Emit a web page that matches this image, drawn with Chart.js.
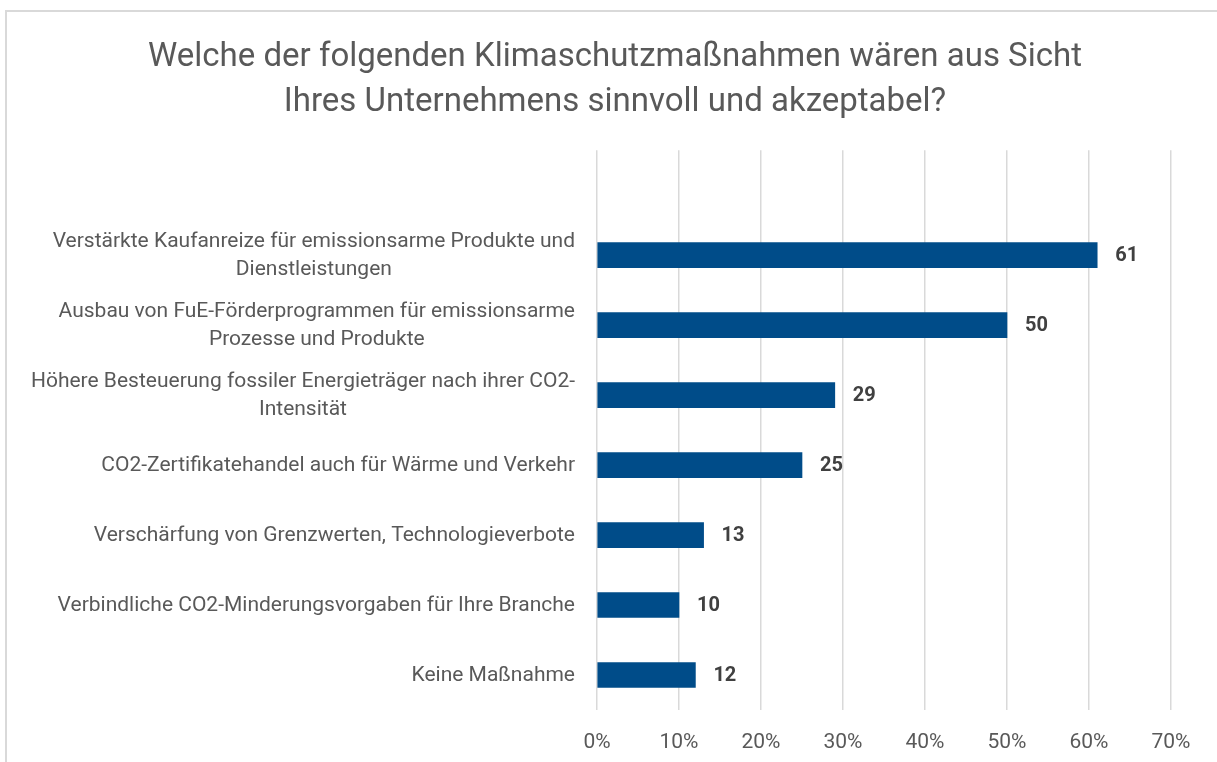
<!DOCTYPE html>
<html>
<head>
<meta charset="utf-8">
<script src="https://cdn.jsdelivr.net/npm/chart.js@4"></script>
<style>
  body { margin: 0; background: #fff; }
  #wrap { position: relative; width: 1217px; height: 762px; }
  #frame { position: absolute; left: 5px; top: 10px; right: 0; bottom: 0;
           border-top: 2px solid #d9d9d9; border-left: 2px solid #d9d9d9; }
  canvas { position: absolute; left: 0; top: 0; }
</style>
</head>
<body>
<div id="wrap">
  <div id="frame"></div>
  <canvas id="chart" width="1217" height="762"></canvas>
</div>
<script>
const titleLines = [
    'Welche der folgenden Klimaschutzmaßnahmen wären aus Sicht',
    'Ihres Unternehmens sinnvoll und akzeptabel?'
];

const categories = [
    ['Verstärkte Kaufanreize für emissionsarme Produkte und', 'Dienstleistungen'],
    ['Ausbau von FuE-Förderprogrammen für emissionsarme', 'Prozesse und Produkte'],
    ['Höhere Besteuerung fossiler Energieträger nach ihrer CO2-', 'Intensität'],
    ['CO2-Zertifikatehandel auch für Wärme und Verkehr'],
    ['Verschärfung von Grenzwerten, Technologieverbote'],
    ['Verbindliche CO2-Minderungsvorgaben für Ihre Branche'],
    ['Keine Maßnahme']
];

const values = [61, 50, 29, 25, 13, 10, 12];

const xTicks = [0, 10, 20, 30, 40, 50, 60, 70];

const FONT = 'Roboto, "Noto Sans", sans-serif';

// Excel leaves one empty slot above the first bar
const labels = [''].concat(categories.map(c => c.join(' ')));
const data = [null].concat(values);

// category labels: block right aligned, lines centred inside the block
const categoryLabels = {
    id: 'categoryLabels',
    afterDraw(chart) {
        const ctx = chart.ctx;
        const y = chart.scales.y;
        const right = chart.chartArea.left - 22;
        ctx.save();
        ctx.font = '21px ' + FONT;
        ctx.fillStyle = '#595959';
        ctx.textBaseline = 'middle';
        ctx.textAlign = 'center';
        categories.forEach((lines, i) => {
            const cy = y.getPixelForValue(i + 1) + 1;
            const w = Math.max(...lines.map(l => ctx.measureText(l).width));
            const cx = right - w / 2;
            const lh = 28;
            const top = cy - (lines.length - 1) * lh / 2;
            lines.forEach((l, j) => ctx.fillText(l, cx, top + j * lh));
        });
        ctx.restore();
    }
};

const valueLabels = {
    id: 'valueLabels',
    afterDatasetsDraw(chart) {
        const ctx = chart.ctx;
        const meta = chart.getDatasetMeta(0);
        ctx.save();
        ctx.font = 'bold 20px ' + FONT;
        ctx.fillStyle = '#404040';
        ctx.textBaseline = 'middle';
        ctx.textAlign = 'left';
        meta.data.forEach((bar, i) => {
            if (data[i] == null) return;
            ctx.fillText(String(data[i]), bar.x + 18, bar.y + 1);
        });
        ctx.restore();
    }
};

new Chart(
    document.getElementById('chart').getContext('2d'),
    {
        type: 'bar',
        data: {
            labels: labels,
            datasets: [{
                data: data,
                backgroundColor: '#004c89',
                barThickness: 25
            }]
        },
        options: {
            indexAxis: 'y',
            responsive: false,
            animation: false,
            layout: {
                padding: { left: 59, right: 46, top: 10, bottom: 9 }
            },
            scales: {
                x: {
                    min: 0,
                    max: 70,
                    afterBuildTicks(scale) {
                        scale.ticks = xTicks.map(v => ({ value: v }));
                    },
                    afterFit(scale) { scale.height = 43; },
                    grid: {
                        color: '#d9d9d9',
                        lineWidth: 1.5,
                        drawTicks: false
                    },
                    border: { display: false },
                    ticks: {
                        padding: 20,
                        color: '#595959',
                        font: { family: FONT, size: 21 },
                        callback: v => v + '%'
                    }
                },
                y: {
                    grid: { display: false },
                    border: { display: false },
                    ticks: { display: false },
                    afterFit(scale) { scale.width = 538; }
                }
            },
            plugins: {
                legend: { display: false },
                tooltip: { enabled: false },
                title: {
                    display: true,
                    text: titleLines,
                    color: '#595959',
                    font: { family: FONT, size: 33, weight: 'normal', lineHeight: 1.36 },
                    padding: { top: 25.6, bottom: 24.8 }
                }
            }
        },
        plugins: [categoryLabels, valueLabels]
    }
);
</script>
</body>
</html>
